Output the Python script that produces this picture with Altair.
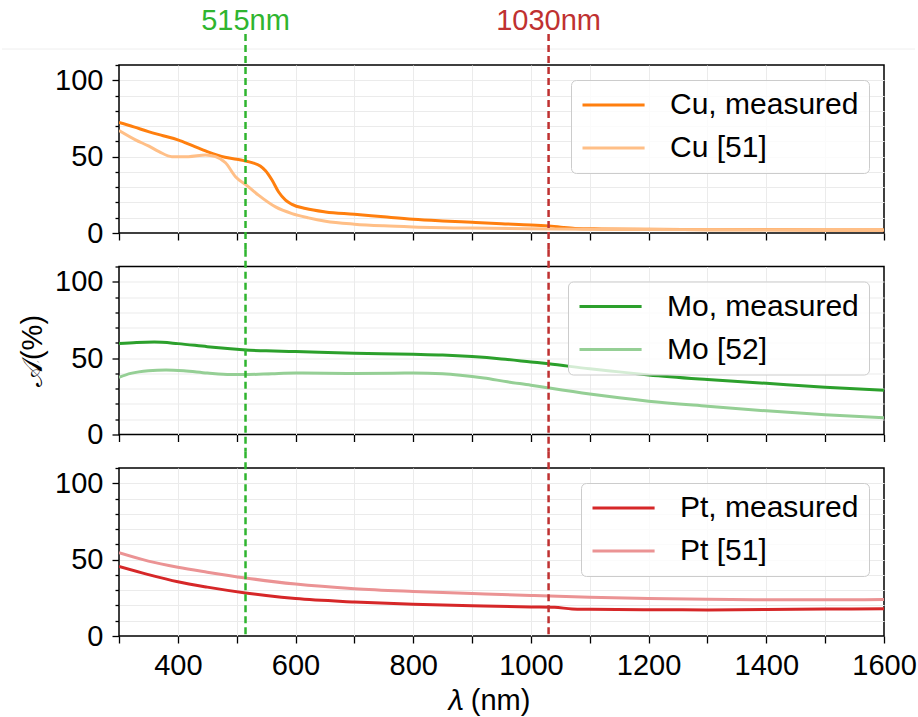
import altair as alt
import pandas as pd

# ---------------- data ----------------
cu_meas_nm = [300, 325, 350, 375, 400, 425, 450, 480, 500, 512, 526, 540, 549, 560, 571, 583, 594, 617, 651, 700, 750, 800, 850, 900, 950, 1000, 1035, 1055, 1075, 1120, 1200, 1300, 1400, 1500, 1600]
cu_meas = [72.4, 69.5, 66.4, 63.7, 61.0, 57.2, 53.3, 49.6, 48.3, 47.4, 46.1, 43.9, 40.8, 34.7, 27.0, 21.5, 18.7, 16.0, 13.8, 12.3, 10.6, 9.0, 7.9, 7.0, 6.1, 5.3, 4.5, 3.6, 3.0, 2.7, 2.4, 2.2, 2.1, 2.0, 2.0]

cu_ref_nm = [300, 328, 350, 368, 390, 418, 447, 464, 481, 498, 518, 537, 566, 594, 622, 651, 700, 750, 800, 900, 1000, 1100, 1200, 1400, 1600]
cu_ref = [67.1, 61.0, 57.0, 53.3, 50.0, 50.0, 51.1, 50.0, 46.0, 36.8, 30.9, 24.8, 17.1, 12.7, 9.9, 7.7, 5.8, 4.7, 4.0, 3.2, 2.8, 2.5, 2.3, 2.1, 2.0]

mo_meas_nm = [300, 330, 360, 400, 450, 500, 515, 550, 600, 700, 800, 850, 900, 950, 1000, 1030, 1100, 1150, 1200, 1300, 1400, 1500, 1600]
mo_meas = [59.5, 60.3, 60.5, 59.5, 57.5, 55.8, 55.3, 54.8, 54.3, 53.2, 52.5, 52.0, 51.0, 49.5, 47.5, 46.3, 43.0, 41.0, 39.0, 36.0, 33.5, 31.0, 29.0]

mo_ref_nm = [300, 320, 350, 380, 410, 450, 490, 520, 560, 600, 700, 800, 850, 880, 920, 960, 1000, 1030, 1100, 1150, 1200, 1300, 1400, 1500, 1600]
mo_ref = [37.5, 40.0, 41.8, 42.3, 41.8, 40.3, 39.3, 39.3, 39.8, 40.2, 40.0, 40.2, 39.7, 38.8, 37.0, 34.5, 32.3, 30.5, 26.5, 24.0, 21.8, 18.5, 15.5, 13.0, 11.0]

pt_meas_nm = [300, 350, 400, 450, 515, 550, 600, 700, 800, 900, 1000, 1040, 1070, 1100, 1200, 1300, 1400, 1500, 1600]
pt_meas = [45.5, 40.2, 35.5, 32.0, 28.2, 26.5, 24.5, 22.3, 20.8, 19.8, 19.0, 18.8, 17.7, 17.5, 17.2, 17.1, 17.3, 17.6, 17.8]

pt_ref_nm = [300, 350, 400, 450, 515, 600, 700, 800, 900, 1000, 1100, 1200, 1300, 1400, 1500, 1600]
pt_ref = [54.5, 49.0, 45.0, 41.8, 38.0, 34.0, 31.0, 29.2, 27.8, 26.5, 25.4, 24.6, 24.0, 23.7, 23.7, 23.9]

marker_nm = [515, 1030]
marker_labels = ["515nm", "1030nm"]
marker_colors = ["#2fb52f", "#bf3131"]

x_ticks = list(range(300, 1601, 50))
y_ticks = list(range(0, 111, 10))

# ---------------- layout / style ----------------
W, H = 765, 168
GAP = 33.5
FONT = "Liberation Sans"
FS = 29
X_DOMAIN = [300, 1600]
Y_DOMAIN = [0, 110]


def series_df(pairs):
    rows = []
    for name, xs, ys in pairs:
        for a, b in zip(xs, ys):
            rows.append({"series": name, "nm": a, "val": b})
    return pd.DataFrame(rows)


def panel(pairs, colors, top=False, bottom=False, ytitle=None):
    names = [p[0] for p in pairs]
    df = series_df(pairs)

    x_kw = dict(
        values=x_ticks,
        format="d",
        grid=True,
        gridColor="#ebebeb",
        gridWidth=1,
        gridOpacity={"condition": {"test": "datum.value <= 300 || datum.value >= 1600", "value": 0}, "value": 1},
        domain=False,
        tickColor="black",
        tickWidth=1.3,
        tickSize={"condition": {"test": "datum.value % 100 === 0", "value": 7}, "value": 4},
        labels=bottom,
        labelExpr="datum.value % 200 === 0 && datum.value > 300 ? datum.label : ''",
        labelFont=FONT,
        labelFontSize=FS,
        labelColor="black",
        labelPadding=8,
        labelFlush=False,
        labelOverlap=False,
        title="𝜆 (nm)" if bottom else None,
        titleFont=FONT,
        titleFontSize=FS,
        titleFontWeight="normal",
        titleColor="black",
        titleBaseline="alphabetic",
        titleX=369,
        titleY=73,
    )
    y_kw = dict(
        values=y_ticks,
        grid=True,
        gridColor="#ebebeb",
        gridWidth=1,
        gridOpacity={"condition": {"test": "datum.value <= 0 || datum.value >= 110", "value": 0}, "value": 1},
        domain=False,
        tickColor="black",
        tickWidth=1.3,
        tickSize={"condition": {"test": "datum.value % 50 === 0", "value": 7}, "value": 4},
        labelExpr="datum.value % 50 === 0 ? datum.label : ''",
        labelFont=FONT,
        labelFontSize=FS,
        labelColor="black",
        labelPadding=9,
        labelOverlap=False,
        title=ytitle if ytitle else None,
        titleFont=FONT,
        titleFontSize=FS,
        titleFontWeight="normal",
        titleColor="black",
        titleBaseline="alphabetic",
        titleX=-78,
    )

    legend = alt.Legend(
        title=None,
        orient="top-right",
        offset=15,
        symbolType="M-1,0H3.6",
        symbolStrokeWidth=3,
        symbolSize=729,
        labelFont=FONT,
        labelFontSize=30,
        labelColor="black",
        labelOffset=59,
        labelLimit=500,
        fillColor="rgba(255,255,255,0.8)",
        strokeColor="#cccccc",
        cornerRadius=5,
        padding=10,
        rowPadding=13,
    )

    lines = alt.Chart(df).mark_line(strokeWidth=3, interpolate="monotone", clip=True).encode(
        x=alt.X("nm:Q", scale=alt.Scale(domain=X_DOMAIN, nice=False, zero=False), axis=alt.Axis(**x_kw)),
        y=alt.Y("val:Q", scale=alt.Scale(domain=Y_DOMAIN, nice=False), axis=alt.Axis(**y_kw)),
        color=alt.Color("series:N", scale=alt.Scale(domain=names, range=colors), sort=names, legend=legend),
        order=alt.Order("ord:Q"),
        detail="series:N",
    ).transform_calculate(ord=f"datum.series == '{names[0]}' ? 1 : 0")

    layers = [lines]

    y_top = -31 if top else -GAP / 2
    y_bot = H if bottom else H + GAP / 2
    for nm, col in zip(marker_nm, marker_colors):
        rule = alt.Chart(pd.DataFrame({"nm": [nm]})).mark_rule(
            color=col, strokeDash=[7, 4], strokeWidth=2.5
        ).encode(
            x=alt.X("nm:Q"),
            y=alt.value(y_top),
            y2=alt.value(y_bot),
        )
        layers.append(rule)

    if top:
        labels_df = pd.DataFrame({"nm": marker_nm, "label": marker_labels, "col": marker_colors})
        txt = alt.Chart(labels_df).mark_text(
            font=FONT, fontSize=FS, baseline="alphabetic", align="center"
        ).encode(
            x=alt.X("nm:Q"),
            y=alt.value(-35),
            text="label:N",
            color=alt.Color("col:N", scale=None, legend=None),
        )
        faint = alt.Chart(pd.DataFrame({"k": [0]})).mark_rule(color="#eeeeee", strokeWidth=1).encode(
            x=alt.value(-117), x2=alt.value(796), y=alt.value(-16)
        )
        layers = [faint] + layers + [txt]

    return alt.layer(*layers).resolve_scale(color="independent").properties(width=W, height=H)


p_cu = panel([("Cu, measured", cu_meas_nm, cu_meas), ("Cu [51]", cu_ref_nm, cu_ref)],
             ["#ff7f0e", "#ffbf87"], top=True)
p_mo = panel([("Mo, measured", mo_meas_nm, mo_meas), ("Mo [52]", mo_ref_nm, mo_ref)],
             ["#2ca02c", "#95cf95"], ytitle="𝒜(%)")
p_pt = panel([("Pt, measured", pt_meas_nm, pt_meas), ("Pt [51]", pt_ref_nm, pt_ref)],
             ["#d62728", "#eb9394"], bottom=True)

chart = alt.vconcat(p_cu, p_mo, p_pt, spacing=GAP, bounds="flush").resolve_scale(
    color="independent"
).configure(
    font=FONT, padding={"left": 0, "top": 6, "right": 0, "bottom": 0}
).configure_view(
    stroke="black", strokeWidth=1.5
)

chart.save("out.html", embed_options={"renderer": "svg", "actions": False})
